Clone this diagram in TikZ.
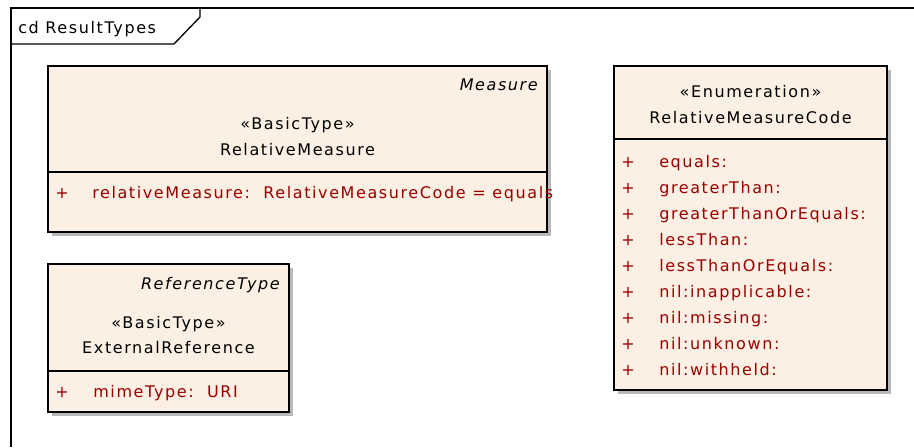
\documentclass[tikz,border=0pt]{standalone}
\usepackage{fontspec}
\setmainfont{DejaVu Sans}[LetterSpace=10]
\usepackage{xcolor}
\definecolor{classfill}{RGB}{251, 240, 227}
\definecolor{attrred}{RGB}{153, 0, 0}
\definecolor{shadowgray}{RGB}{185, 185, 185}

\begin{document}
\begin{tikzpicture}[x=0.75pt, y=-0.75pt, font=\fontsize{12}{14}\selectfont,
    txt/.style={inner sep=0pt, anchor=base},
    attr/.style={inner sep=0pt, anchor=base west, text=attrred},
    vis/.style={inner sep=0pt, anchor=base, text=attrred}]
    \useasboundingbox (0,0) rectangle (914,447);

    % Diagram frame
    \draw[line width=1pt] (11,447) -- (11,8) -- (914,8);
    \draw[line width=1pt] (11,44) -- (174,44) -- (200,17) -- (200,8);
    \node[txt, anchor=base west] (title) at (18,33) {cd ResultTypes};

    % RelativeMeasure
    \fill[shadowgray] (52,70) rectangle (551,236);
    \draw[fill=classfill, line width=1pt] (48,66) rectangle (547,232);
    \draw[line width=1pt] (48,172) -- (547,172);
    \node[txt, anchor=base east] (rmparent) at (538,90) {\itshape Measure};
    \node[txt] (rmstereo) at (297.5,129) {«BasicType»};
    \node[txt] (rmname) at (297.5,155) {RelativeMeasure};
    \node[vis] (rmvis) at (62,198) {+};
    \node[attr] (rmattr) at (92,198) {relativeMeasure:\ \ RelativeMeasureCode = equals};

    % ExternalReference
    \fill[shadowgray] (52,268) rectangle (293,416);
    \draw[fill=classfill, line width=1pt] (48,264) rectangle (289,412);
    \draw[line width=1pt] (48,371) -- (289,371);
    \node[txt, anchor=base east] (erparent) at (280,289) {\itshape ReferenceType};
    \node[txt] (erstereo) at (168.5,328) {«BasicType»};
    \node[txt] (ername) at (168.5,353) {ExternalReference};
    \node[vis] (ervis) at (62,397) {+};
    \node[attr] (erattr) at (93,397) {mimeType:\ \ URI};

    % RelativeMeasureCode
    \fill[shadowgray] (618,70) rectangle (891,394);
    \draw[fill=classfill, line width=1pt] (614,66) rectangle (887,390);
    \draw[line width=1pt] (614,139) -- (887,139);
    \node[txt] (rcstereo) at (750.5,97) {«Enumeration»};
    \node[txt] (rcname) at (750.5,123) {RelativeMeasureCode};
    \foreach \lit [count=\i from 0] in {equals:, greaterThan:, greaterThanOrEquals:,
        lessThan:, lessThanOrEquals:, nil:inapplicable:, nil:missing:,
        nil:unknown:, nil:withheld:} {
        \node[vis] (rcvis\i) at (628,167+26*\i) {+};
        \node[attr] (rclit\i) at (659,167+26*\i) {\lit};
    }
\end{tikzpicture}
\end{document}
